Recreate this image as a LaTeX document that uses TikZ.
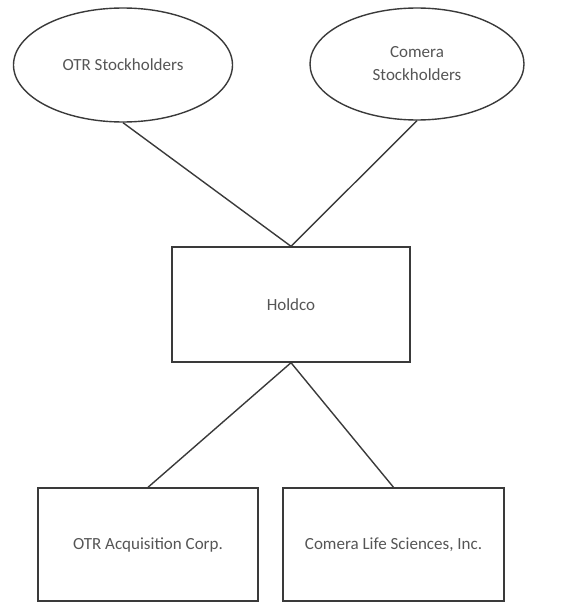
\documentclass[tikz,border=0pt]{standalone}
\usepackage{fontspec}
\setmainfont{Carlito}
\usetikzlibrary{shapes.geometric}
\definecolor{linec}{HTML}{3A3A3A}
\definecolor{textc}{HTML}{555555}
\begin{document}
\begin{tikzpicture}[x=1pt,y=-1pt,
  every node/.style={font=\fontsize{17}{23}\selectfont, text=textc},
  oval/.style={ellipse, draw=linec, line width=1.4pt, inner sep=0pt},
  box/.style={rectangle, draw=linec, line width=1.4pt, inner sep=0pt},
  link/.style={draw=linec, line width=1.4pt}]
\useasboundingbox (0,0) rectangle (563,602);
\node[oval, minimum width=219pt, minimum height=114pt] (otrs) at (123,65) {OTR Stockholders};
\node[oval, minimum width=214pt, minimum height=112pt, align=center] (coms) at (417,64) {Comera\\Stockholders};
\node[box, minimum width=238pt, minimum height=115pt] (hold) at (291,304.5) {Holdco};
\node[box, minimum width=220pt, minimum height=113pt] (otra) at (148,544.5) {OTR Acquisition Corp.};
\node[box, minimum width=221pt, minimum height=113pt] (cls) at (393.5,544.5) {Comera Life Sciences, Inc.};
\draw[link] (otrs.south) -- (hold.north);
\draw[link] (coms.south) -- (hold.north);
\draw[link] (hold.south) -- (otra.north);
\draw[link] (hold.south) -- (cls.north);
\end{tikzpicture}
\end{document}
